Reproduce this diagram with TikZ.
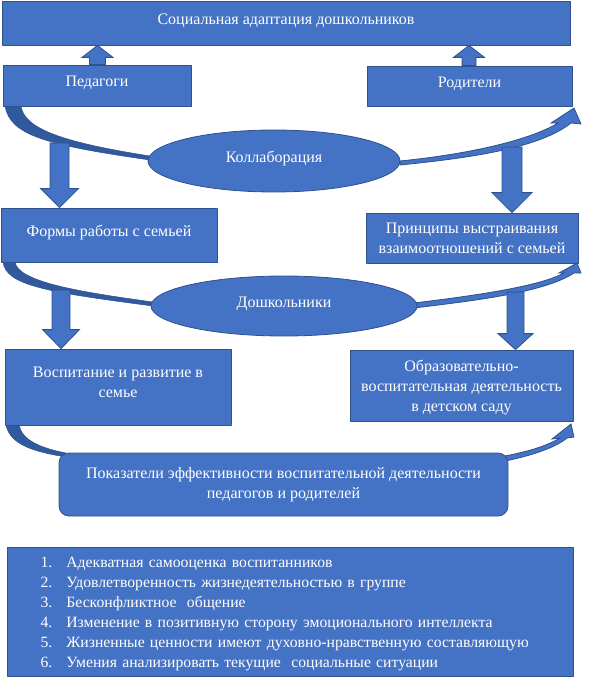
\documentclass[tikz,border=0pt]{standalone}
\usepackage{fontspec}
\setmainfont{Liberation Serif}
\usetikzlibrary{calc,shapes.geometric,backgrounds}
\definecolor{blu}{HTML}{4472C4}
\definecolor{edge}{HTML}{2F528F}
\definecolor{shade}{HTML}{31599E}
% tail, tip, shaft half width, head half width, head length
\newcommand{\blockarrow}[5]{%
	\filldraw[blkarr] let \p1=#1, \p2=#2, \n1={sign(\y2-\y1)} in
	(\x1-#3pt,\y1) -- ({\x1-#3pt},{\y2-(\n1*#5pt)}) -- ({\x1-#4pt},{\y2-(\n1*#5pt)}) -- (\x1,\y2)
	-- ({\x1+#4pt},{\y2-(\n1*#5pt)}) -- ({\x1+#3pt},{\y2-(\n1*#5pt)}) -- (\x1+#3pt,\y1) -- cycle;}
\newcommand{\itm}[1]{\makebox[22pt][r]{#1}\hspace{14pt}}
\begin{document}
\begin{tikzpicture}[x=1pt,y=-1pt,font=\fontsize{16}{20}\selectfont,line join=round,
	box/.style={draw=edge,fill=blu,text=white,line width=.8pt,inner sep=0pt,align=center},
	oval/.style={box,ellipse},
	lift/.style={text height=11pt,text depth=8pt},
	blkarr/.style={draw=edge,fill=blu,line width=.8pt},
	bandd/.style={fill=shade,draw=edge,line width=.5pt},
	bandl/.style={fill=blu,draw=edge,line width=.8pt}]
	\useasboundingbox (0,0) rectangle (589,679);
	\node[box,lift,minimum width=568,minimum height=44] (top) at (286,23) {Социальная адаптация дошкольников};
	\node[box,lift,minimum width=188,minimum height=41] (ped) at (97,85.5) {Педагоги};
	\node[box,lift,minimum width=205,minimum height=40] (rod) at (469.5,86) {Родители};
	\node[oval,lift,minimum width=252,minimum height=62] (koll) at (274,161) {Коллаборация};
	\node[box,lift,minimum width=216,minimum height=54] (forms) at (109,235) {Формы работы с семьей};
	\node[box,minimum width=212,minimum height=50] (princ) at (472,238) {Принципы выстраивания\\взаимоотношений с семьей};
	\node[oval,lift,minimum width=266,minimum height=60] (dosh) at (284,306) {Дошкольники};
	\node[box,text depth=9pt,minimum width=226,minimum height=76] (vosp) at (118,387) {Воспитание и развитие в\\семье};
	\node[box,text depth=0pt,minimum width=223,minimum height=71] (obr) at (461.5,385.5) {Образовательно-\\воспитательная деятельность\\в детском саду};
	\node[box,rounded corners=10pt,minimum width=449,minimum height=63] (res) at (283.5,484.5) {Показатели эффективности воспитательной деятельности\\педагогов и родителей};
	\node[box,anchor=north west,minimum height=129,text width=520pt,inner xsep=23pt,align=left,
		text height=15pt,font=\fontsize{15.7}{19.9}\selectfont] (list) at (7,547)
	{\itm{1.}Адекватная самооценка воспитанников\\
	 \itm{2.}Удовлетворенность жизнедеятельностью в группе\\
	 \itm{3.}Бесконфликтное \ общение\\
	 \itm{4.}Изменение в позитивную сторону эмоционального интеллекта\\
	 \itm{5.}Жизненные ценности имеют духовно-нравственную составляющую\\
	 \itm{6.}Умения анализировать текущие \ социальные ситуации};
	\begin{scope}[on background layer]
	% curved arrows
	\filldraw[bandd] (5,106) .. controls (10,135) and (45,145) .. (150,160) -- (150,156) .. controls (60,142) and (24,128) .. (21,106) -- cycle;
	\filldraw[bandl] (400,165) .. controls (470,158) and (540,148) .. (571,123) -- (581,124) -- (574,108) -- (551,123) -- (558,123) .. controls (530,140) and (470,154) .. (400,161) -- cycle;
	\filldraw[bandd] (3,262) .. controls (6,285) and (45,292) .. (153,306) -- (153,302) .. controls (80,292) and (18,282) .. (15,262) -- cycle;
	\filldraw[bandl] (414,308) .. controls (480,300) and (545,292) .. (574,273) -- (581,273) -- (577,263) -- (559,273) -- (564,273) .. controls (540,286) and (480,295) .. (414,303) -- cycle;
	\filldraw[bandd] (6,425) .. controls (10,445) and (35,452) .. (66,457) -- (66,453) .. controls (40,448) and (22,440) .. (19,425) -- cycle;
	\filldraw[bandl] (505,461) .. controls (530,456) and (555,448) .. (567,438) -- (574,437) -- (571,424) -- (552,439) -- (560,438) .. controls (545,447) and (525,452) .. (505,456) -- cycle;
	% block arrows
	\blockarrow{(97.5,0 |- ped.north)}{(97.5,0 |- top.south)}{8}{15.5}{12}
	\blockarrow{(469,0 |- rod.north)}{(469,0 |- top.south)}{7}{15.5}{12}
	\blockarrow{(59.5,143)}{(59.5,0 |- forms.north)}{9.5}{19}{19}
	\blockarrow{(512,147)}{(512,0 |- princ.north)}{10}{20}{20}
	\blockarrow{(61,290)}{(61,0 |- vosp.north)}{9}{18.5}{19}
	\blockarrow{(515.5,292)}{(515.5,0 |- obr.north)}{8.5}{17.5}{16}
	\end{scope}
\end{tikzpicture}
\end{document}
